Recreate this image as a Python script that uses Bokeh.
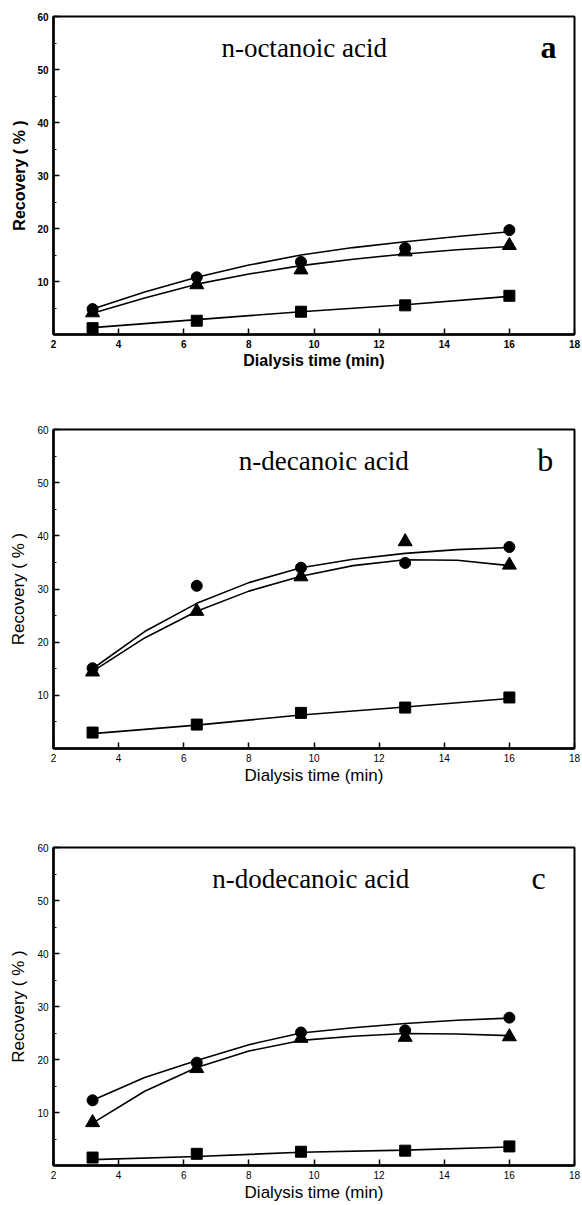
from bokeh.plotting import figure
from bokeh.layouts import column
from bokeh.models import Range1d, FixedTicker
from bokeh.core.properties import value
from bokeh.embed import file_html
from bokeh.resources import INLINE

# ---------------- data ----------------
time_min = [3.2, 6.4, 9.6, 12.8, 16.0]
curve_x = [3.2, 4.8, 6.4, 8.0, 9.6, 11.2, 12.8, 14.4, 16.0]

titles = ["n-octanoic acid", "n-decanoic acid", "n-dodecanoic acid"]
letters = ["a", "b", "c"]

# panel a : n-octanoic acid
a_circle = [4.8, 10.8, 13.7, 16.3, 19.7]
a_triangle = [4.1, 9.4, 12.2, 15.6, 16.8]
a_square = [1.2, 2.6, 4.3, 5.5, 7.3]
a_curve_circle = [4.8, 8.0, 10.8, 13.1, 15.0, 16.4, 17.5, 18.5, 19.4]
a_curve_triangle = [4.0, 6.9, 9.5, 11.4, 13.0, 14.2, 15.2, 16.0, 16.6]
a_line_square = [1.3, 2.8, 4.3, 5.6, 7.2]

# panel b : n-decanoic acid
b_circle = [15.1, 30.6, 34.0, 34.9, 37.9]
b_triangle = [14.4, 25.8, 32.3, 38.9, 34.5]
b_square = [3.0, 4.5, 6.7, 7.7, 9.6]
b_curve_circle = [15.0, 22.0, 27.3, 31.2, 34.0, 35.6, 36.7, 37.4, 37.8]
b_curve_triangle = [14.5, 20.8, 25.8, 29.6, 32.4, 34.4, 35.5, 35.4, 34.4]
b_line_square = [2.8, 4.4, 6.3, 7.8, 9.4]

# panel c : n-dodecanoic acid
c_circle = [12.3, 19.4, 25.1, 25.5, 27.9]
c_triangle = [8.1, 18.3, 24.0, 24.2, 24.3]
c_square = [1.5, 2.2, 2.6, 2.8, 3.6]
c_curve_circle = [12.3, 16.6, 19.8, 22.8, 25.0, 26.0, 26.8, 27.4, 27.8]
c_curve_triangle = [8.0, 14.0, 18.5, 21.6, 23.6, 24.4, 24.9, 24.8, 24.5]
c_line_square = [1.1, 1.7, 2.5, 2.9, 3.5]

x_ticks = [2, 4, 6, 8, 10, 12, 14, 16, 18]
y_ticks = [10, 20, 30, 40, 50, 60]
y_minor = [5, 15, 25, 35, 45, 55]

x_label = "Dialysis time (min)"
y_label = "Recovery ( % )"

SANS = "Liberation Sans"
SERIF = "Liberation Serif"


def panel(idx, circ, tri, sq, cc, ct, ls, height, top, bottom, bold,
          title_x, letter_x, letter_bold):
    p = figure(width=582, height=height, x_range=Range1d(2, 18),
               y_range=Range1d(0, 60), output_backend="svg",
               toolbar_location=None, min_border_left=53,
               min_border_right=8, min_border_top=top,
               min_border_bottom=bottom)
    p.xgrid.visible = False
    p.ygrid.visible = False
    p.outline_line_color = "black"
    p.outline_line_width = 2
    p.outline_line_alpha = 1
    p.background_fill_color = "white"
    p.border_fill_color = "white"

    weight = "bold" if bold else "normal"
    for ax in (p.xaxis[0], p.yaxis[0]):
        ax.axis_line_width = 2.5
        ax.axis_line_color = "black"
        ax.major_tick_in = 6
        ax.major_tick_out = 0
        ax.minor_tick_in = 3
        ax.minor_tick_out = 0
        ax.major_tick_line_width = 1.5
        ax.major_label_text_font = SANS
        ax.major_label_text_font_size = "10px"
        ax.major_label_text_font_style = "bold" if bold else "normal"
        ax.major_label_text_color = "black"
        ax.axis_label_text_font = SANS
        ax.axis_label_text_font_size = "16px" if bold else "17px"
        ax.axis_label_text_font_style = weight
        ax.axis_label_text_color = "black"
    p.xaxis[0].ticker = FixedTicker(ticks=x_ticks)
    p.yaxis[0].ticker = FixedTicker(ticks=y_ticks, minor_ticks=y_minor)
    p.xaxis[0].minor_tick_line_color = None
    p.xaxis[0].major_label_standoff = 5
    p.yaxis[0].major_label_standoff = 5
    p.xaxis[0].axis_label = x_label
    p.yaxis[0].axis_label = y_label
    p.xaxis[0].axis_label_standoff = 1
    p.yaxis[0].axis_label_standoff = 6

    lw = 1.6
    p.line(curve_x, cc, line_color="black", line_width=lw)
    p.line(curve_x, ct, line_color="black", line_width=lw)
    p.line(time_min, ls, line_color="black", line_width=lw)
    p.scatter(time_min, circ, marker="circle", size=11, color="black")
    p.scatter(time_min, tri, marker="triangle", size=14, color="black")
    p.scatter(time_min, sq, marker="square", size=11, color="black")

    p.text(x=[title_x], y=[54], text=[titles[idx]],
           text_font=value(SERIF), text_font_size="27px",
           text_align="center", text_baseline="middle", text_color="black")
    p.text(x=[letter_x], y=[54.3], text=[letters[idx]],
           text_font=value(SERIF), text_font_size="32px",
           text_font_style="bold" if letter_bold else "normal",
           text_align="center", text_baseline="middle", text_color="black")
    return p


pa = panel(0, a_circle, a_triangle, a_square, a_curve_circle,
           a_curve_triangle, a_line_square, 413, 16, 79, True,
           9.7, 17.2, True)
pb = panel(1, b_circle, b_triangle, b_square, b_curve_circle,
           b_curve_triangle, b_line_square, 416, 16, 81, False,
           10.3, 17.1, False)
pc = panel(2, c_circle, c_triangle, c_square, c_curve_circle,
           c_curve_triangle, c_line_square, 376, 18, 40, False,
           9.9, 16.9, False)

layout = column(pa, pb, pc, spacing=0)
open("out.html", "w").write(file_html(layout, INLINE))
